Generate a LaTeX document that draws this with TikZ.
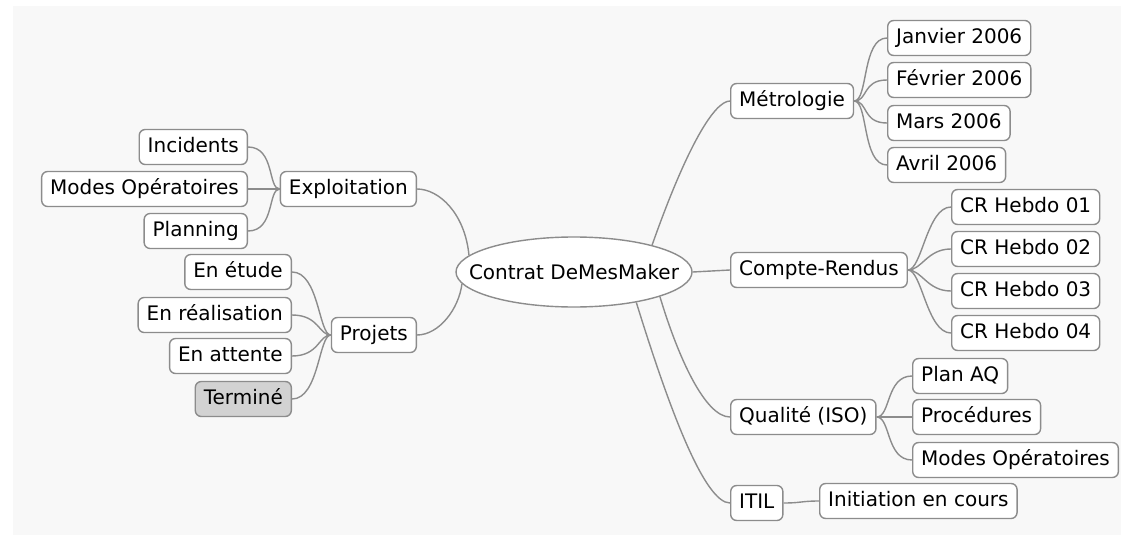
\documentclass[tikz,border=0pt]{standalone}
\usepackage{fontspec}
\setmainfont{DejaVu Sans}
\usetikzlibrary{shapes.geometric}
\definecolor{bgc}{HTML}{F8F8F8}
\definecolor{linec}{HTML}{8C8C8C}
\definecolor{donec}{HTML}{D2D2D2}
\tikzset{
  box/.style={draw=linec, line width=1.4pt, rounded corners=6pt, fill=white,
    minimum height=35pt, inner xsep=8.5pt, inner ysep=0pt,
    text height=15pt, text depth=4pt, font=\fontsize{20pt}{24pt}\selectfont},
  link/.style={draw=linec, line width=1.4pt},
}
\begin{document}
\begin{tikzpicture}[x=1pt,y=-1pt]
\useasboundingbox (0,0) rectangle (1121,535);
\fill[white] (0,0) rectangle (1121,535);
\fill[bgc] (13,6) rectangle (1121,535);

% centre
\node[draw=linec, line width=1.4pt, ellipse, fill=white, minimum width=236pt, minimum height=70pt, inner sep=0pt,
  font=\fontsize{20pt}{24pt}\selectfont] (c) at (574,272) {\makebox[0pt]{Contrat DeMesMaker}};

% left side
\node[box, anchor=east] (expl) at (417,189) {Exploitation};
\node[box, anchor=east] (inc) at (248,147) {Incidents};
\node[box, anchor=east] (modl) at (248,189) {Modes Opératoires};
\node[box, anchor=east] (plan) at (248,231) {Planning};

\node[box, anchor=east] (proj) at (417,335) {Projets};
\node[box, anchor=east] (etu) at (292,272) {En étude};
\node[box, anchor=east] (rea) at (292,315) {En réalisation};
\node[box, anchor=east] (att) at (292,356) {En attente};
\node[box, anchor=east, fill=donec] (ter) at (292,399) {Terminé};

% right side
\node[box, anchor=west] (met) at (730,101) {Métrologie};
\node[box, anchor=west] (jan) at (887,38) {Janvier 2006};
\node[box, anchor=west] (fev) at (887,80) {Février 2006};
\node[box, anchor=west] (mar) at (887,123) {Mars 2006};
\node[box, anchor=west] (avr) at (887,165) {Avril 2006};

\node[box, anchor=west] (cr) at (730,270) {Compte-Rendus};
\node[box, anchor=west] (cr1) at (951,207) {CR Hebdo 01};
\node[box, anchor=west] (cr2) at (951,249) {CR Hebdo 02};
\node[box, anchor=west] (cr3) at (951,291) {CR Hebdo 03};
\node[box, anchor=west] (cr4) at (951,333) {CR Hebdo 04};

\node[box, anchor=west] (qua) at (730,417) {Qualité (ISO)};
\node[box, anchor=west] (paq) at (912,376) {Plan AQ};
\node[box, anchor=west] (pro) at (912,417) {Procédures};
\node[box, anchor=west] (modr) at (912,460) {Modes Opératoires};

\node[box, anchor=west] (itil) at (730,503) {ITIL};
\node[box, anchor=west] (ini) at (819,501) {Initiation en cours};

% centre links
\draw[link] (c.171.8) .. controls +(-4,-42) and +(22,0) .. (expl.east);
\draw[link] (c.186.8) .. controls +(-3,25) and +(22,0) .. (proj.east);
\draw[link] (c.19.1) .. controls +(36,-102) and +(-15,0) .. (met.west);
\draw[link] (c.east) -- (cr.west);
\draw[link] (c.344.4) .. controls +(18,60) and +(-25,0) .. (qua.west);
\draw[link] (c.334.9) .. controls +(34,110) and +(-25,0) .. (itil.west);

% left children
\foreach \k in {inc,modl,plan}
  \draw[link] (expl.west) .. controls +(-12,0) and +(27,0) .. (\k.east);
\foreach \k in {etu,rea,att,ter}
  \draw[link] (proj.west) .. controls +(-12,0) and +(27,0) .. (\k.east);

% right children
\foreach \k in {jan,fev,mar,avr}
  \draw[link] (met.east) .. controls +(14,0) and +(-25,0) .. (\k.west);
\foreach \k in {cr1,cr2,cr3,cr4}
  \draw[link] (cr.east) .. controls +(14,0) and +(-24,0) .. (\k.west);
\foreach \k in {paq,pro,modr}
  \draw[link] (qua.east) .. controls +(14,0) and +(-26,0) .. (\k.west);
\draw[link] (itil.east) .. controls +(18,0) and +(-18,0) .. (ini.west);
\end{tikzpicture}
\end{document}
